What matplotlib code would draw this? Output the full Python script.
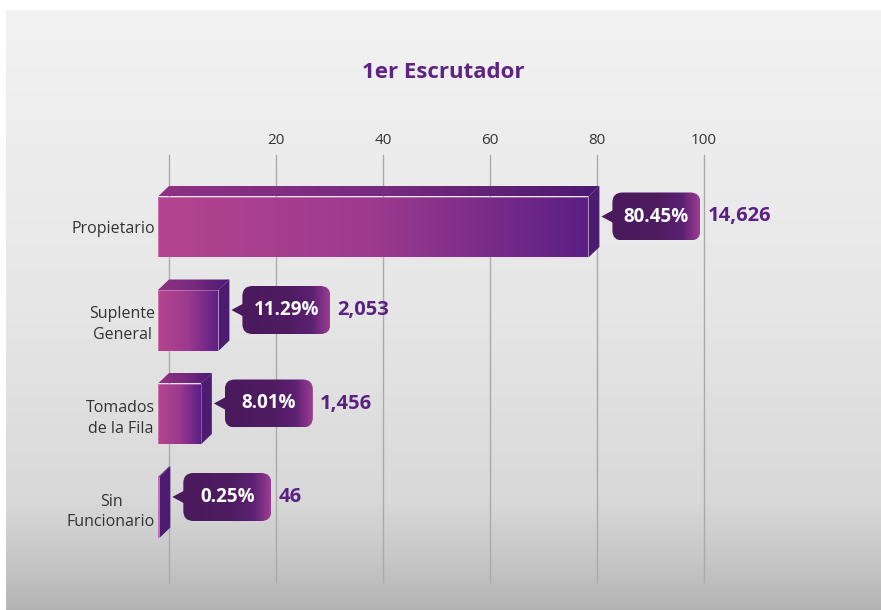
import numpy as np
import matplotlib
matplotlib.use("Agg")
import matplotlib.pyplot as plt
from matplotlib.patches import Polygon, FancyBboxPatch
from matplotlib.colors import LinearSegmentedColormap

# ---------------- data ----------------
title = "1er Escrutador"
categories = ["Propietario", "Suplente\nGeneral", "Tomados\nde la Fila", "Sin\nFuncionario"]
percentages = [80.45, 11.29, 8.01, 0.25]
counts = [14626, 2053, 1456, 46]
tick_values = [0, 20, 40, 60, 80, 100]
tick_labels = ["", "20", "40", "60", "80", "100"]

plt.rcParams['font.family'] = ['Open Sans', 'DejaVu Sans']

W, H = 881, 610
fig = plt.figure(figsize=(W / 100, H / 100), dpi=100)
fig.patch.set_facecolor("white")

# ---------------- background panel ----------------
bg = fig.add_axes([0, 0, 1, 1], zorder=0)
bg.set_xlim(0, W)
bg.set_ylim(H, 0)
bg.axis("off")
rows = np.linspace(10, H, 400)
lv = np.interp(rows, [10, 300, 500, 560, 610], [0.95, 0.905, 0.85, 0.78, 0.705])
g = np.repeat(lv[:, None], 2, axis=1)
bg.imshow(np.dstack([g, g, g]), extent=(6, W, H, 10), aspect="auto",
          interpolation="bilinear")
bg.set_xlim(0, W)
bg.set_ylim(H, 0)

# ---------------- main axes ----------------
x0px, x100px = 169, 704
ytop, ybot = 155, 582
row0, rowstep = 227, 93.5
ax = fig.add_axes([x0px / W, 1 - ybot / H, (x100px - x0px) / W, (ybot - ytop) / H], zorder=1)
ax.set_xlim(0, 100)
ax.set_ylim((ybot - row0) / rowstep, (ytop - row0) / rowstep)
ax.set_facecolor("none")
for s in ax.spines.values():
    s.set_visible(False)
ax.xaxis.tick_top()
ax.set_xticks(tick_values)
ax.set_xticklabels(tick_labels)
ax.tick_params(axis="x", length=0, pad=5, labelsize=11, labelcolor="#333333")
ax.set_yticks(range(len(categories)))
ax.set_yticklabels(categories, multialignment="center")
for lab in ax.get_yticklabels():
    lab.set_linespacing(1.4)
ax.tick_params(axis="y", length=0, pad=10, labelsize=11.5, labelcolor="#333333")
ax.grid(axis="x", color="#aaaaaa", lw=1)
for gl in ax.get_xgridlines():
    gl.set_clip_on(False)
ax.set_axisbelow(True)

fig.text(443 / W, 1 - 72 / H, title, ha="center", va="center", fontsize=16,
         fontweight="bold", color="#5e2383")

# ---------------- overlay for 3D bars & callouts ----------------
ov = fig.add_axes([0, 0, 1, 1], zorder=2)
ov.set_xlim(0, W)
ov.set_ylim(H, 0)
ov.axis("off")
ov.patch.set_alpha(0)


def to_px(x, y):
    d = ax.transData.transform((x, y))
    return d[0], H - d[1]


def grad_fill(patch, xl, xr, yt, yb, stops, z):
    patch.set_facecolor("none")
    patch.set_edgecolor("none")
    ov.add_patch(patch)
    cmap = LinearSegmentedColormap.from_list("g", stops)
    im = ov.imshow(np.linspace(0, 1, 256)[None, :], cmap=cmap,
                   extent=(xl, xr, yb, yt), aspect="auto",
                   interpolation="bilinear", zorder=z)
    im.set_clip_path(patch)
    return im


front_stops = [(0, "#b4448f"), (0.5, "#9c3a8e"), (1, "#5b1f85")]
top_stops = [(0, "#8e3182"), (0.5, "#782a7f"), (1, "#4b1a70")]
side_col = "#4e1b72"
call_stops = [(0, "#4a1a5c"), (0.55, "#4f1c62"), (0.8, "#5c2172"), (1, "#9c3d93")]

dx, dy, hh = 11, 10.5, 30.5
for i, (p, n) in enumerate(zip(percentages, counts)):
    X0, c = to_px(0, i)
    Xv, _ = to_px(p, i)
    # top face
    top = Polygon([(X0 - dx, c - hh), (X0, c - hh - dy), (Xv, c - hh - dy), (Xv - dx, c - hh)],
                  closed=True)
    grad_fill(top, X0 - dx, Xv, c - hh - dy, c - hh, top_stops, 3)
    # side face
    side = Polygon([(Xv - dx, c - hh), (Xv, c - hh - dy), (Xv, c + hh - dy), (Xv - dx, c + hh)],
                   closed=True, facecolor=side_col, edgecolor="none", zorder=3)
    ov.add_patch(side)
    # front face
    front = Polygon([(X0 - dx, c - hh), (Xv - dx, c - hh), (Xv - dx, c + hh), (X0 - dx, c + hh)],
                    closed=True)
    grad_fill(front, X0 - dx, max(Xv - dx, X0 - dx + 1), c - hh, c + hh, front_stops, 3.5)
    ov.add_patch(Polygon(front.get_xy(), closed=True, facecolor="none",
                         edgecolor="#f3cdea", lw=0.5, alpha=0.5, zorder=3.6))

    # callout
    cb = c - dy
    tip = Xv + 2
    bl = tip + 11
    bw, bh, r = 88, 48, 10
    ov.add_patch(Polygon([(tip, cb), (bl + 2, cb - 7), (bl + 2, cb + 7)], closed=True,
                         facecolor="#4a1a5c", edgecolor="none", zorder=4))
    box = FancyBboxPatch((bl, cb - bh / 2), bw, bh,
                         boxstyle=f"round,pad=0,rounding_size={r}")
    box.set_zorder(4)
    grad_fill(box, bl, bl + bw, cb - bh / 2, cb + bh / 2, call_stops, 4)
    ov.text(bl + bw / 2, cb, f"{p:.2f}%", ha="center", va="center", color="white",
            fontsize=13.5, fontweight="bold", zorder=5)
    ov.text(bl + bw + 7, cb, f"{n:,}", ha="left", va="center", color="#5b2182",
            fontsize=14.5, fontweight="bold", zorder=5)

ov.set_xlim(0, W)
ov.set_ylim(H, 0)

fig.savefig("out.png", dpi=100, facecolor="white")
